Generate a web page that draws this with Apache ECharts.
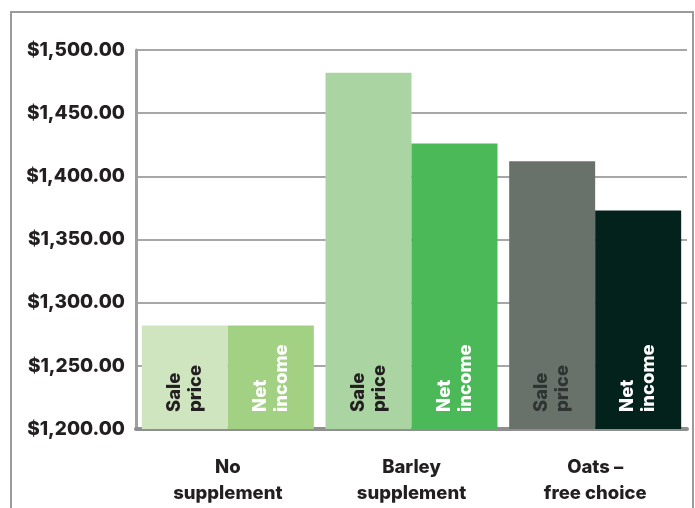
<!DOCTYPE html>
<html>
<head>
<meta charset="utf-8">
<script src="https://cdn.jsdelivr.net/npm/echarts@6/dist/echarts.min.js"></script>
<style>
  html, body { margin: 0; padding: 0; background: #ffffff; }
  #chart { width: 695px; height: 508px; }
</style>
</head>
<body>
<div id="chart"></div>
<script>
// Feeding strategies compared
const categories = ['No\nsupplement', 'Barley\nsupplement', 'Oats \u2013\nfree choice'];
const salePrice = [1282, 1482, 1412];
const netIncome = [1282, 1426, 1373];
const yTicks = [1200, 1250, 1300, 1350, 1400, 1450, 1500];

// Per-bar fill colours (one per category)
const saleColors = ['#cfe5bf', '#aad5a3', '#68726b'];
const netColors = ['#a2d183', '#4bb957', '#04221c'];
const saleLabelColors = ['#231f20', '#231f20', '#2f3431'];
const netLabelColors = ['#ffffff', '#ffffff', '#ffffff'];

const FONT = 'Inter, "Open Sans", sans-serif';
const chart = echarts.init(document.getElementById('chart'));

function makeData(values, colors, labelColors) {
  return values.map((v, i) => ({
    value: v,
    itemStyle: { color: colors[i] },
    label: { color: labelColors[i] }
  }));
}

const barLabel = (text) => ({
  show: true,
  formatter: text,
  position: 'insideBottom',
  rotate: 90,
  align: 'left',
  verticalAlign: 'middle',
  distance: 17,
  fontFamily: FONT,
  fontWeight: 800,
  fontSize: 18.5,
  lineHeight: 21
});

chart.setOption({
  animation: false,
  graphic: [{
    type: 'rect',
    shape: { x: 11, y: 12, width: 682, height: 520 },
    style: { fill: 'none', stroke: '#9b9b9b', lineWidth: 2 },
    silent: true,
    z: -1
  }],
  grid: { left: 136, right: 8, top: 50, bottom: 79 },
  xAxis: {
    type: 'category',
    data: categories,
    axisTick: { show: false },
    axisLine: { show: true, lineStyle: { color: '#8f8f8f', width: 4 } },
    axisLabel: {
      color: '#231f20',
      fontFamily: FONT,
      fontWeight: 800,
      fontSize: 18.5,
      lineHeight: 26,
      margin: 25
    }
  },
  yAxis: {
    type: 'value',
    min: yTicks[0],
    max: yTicks[yTicks.length - 1],
    interval: 50,
    axisLine: { show: true, lineStyle: { color: '#a0a0a0', width: 3 } },
    axisTick: { show: false },
    splitLine: { show: true, lineStyle: { color: '#a7a7a7', width: 2 } },
    axisLabel: {
      color: '#231f20',
      fontFamily: FONT,
      fontWeight: 800,
      fontSize: 19,
      margin: 11,
      formatter: (v) => '$' + v.toLocaleString('en-US', { minimumFractionDigits: 2, maximumFractionDigits: 2 })
    }
  },
  series: [
    {
      name: 'Sale price',
      type: 'bar',
      barWidth: 86,
      barGap: '0%',
      data: makeData(salePrice, saleColors, saleLabelColors),
      label: barLabel('Sale\nprice')
    },
    {
      name: 'Net income',
      type: 'bar',
      barWidth: 86,
      barGap: '0%',
      data: makeData(netIncome, netColors, netLabelColors),
      label: barLabel('Net\nincome')
    }
  ]
});
</script>
</body>
</html>
